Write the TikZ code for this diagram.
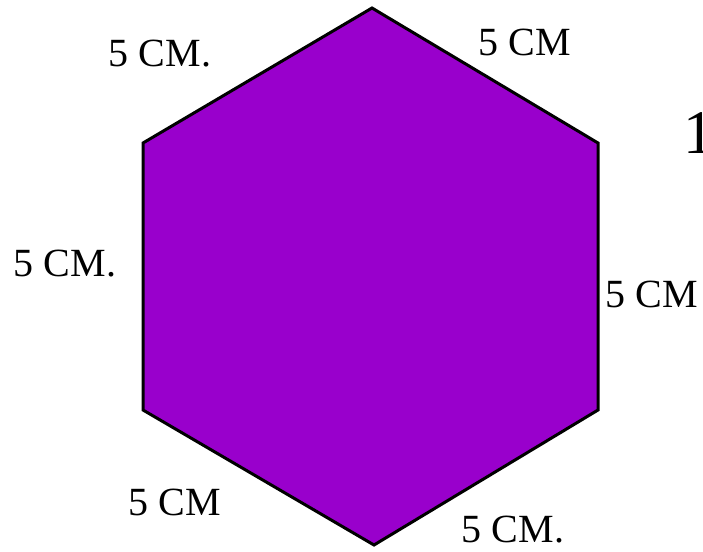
\documentclass[tikz,border=0pt]{standalone}
\usepackage{fontspec}
\setmainfont{Liberation Serif}
\definecolor{hexpurple}{HTML}{9900CC}
\begin{document}
\begin{tikzpicture}[x=1pt, y=-1pt, line join=miter,
	side/.style={font=\fontsize{40}{48}\selectfont, inner sep=0pt}]
	\useasboundingbox (0,0) rectangle (703,551);
	\path
	(372,8) coordinate (T)
	(143,143) coordinate (UL)
	(143,410) coordinate (LL)
	(374,545) coordinate (B)
	(598,410) coordinate (LR)
	(598,143) coordinate (UR)
;
	\draw[line width=3pt, fill=hexpurple] (T)--(UL)--(LL)--(B)--(LR)--(UR)--cycle;
	\node[side] (tl) at (160,54) {5 CM.};
	\node[side] (tr) at (525,42) {5 CM};
	\node[side] (l) at (65,264) {5 CM.};
	\node[side] (r) at (652,294) {5 CM};
	\node[side] (bl) at (175,502) {5 CM};
	\node[side] (br) at (513,530) {5 CM.};
	\node[font=\fontsize{62}{70}\selectfont, inner sep=0pt, anchor=base west] (one) at (683,153) {1};
\end{tikzpicture}
\end{document}
